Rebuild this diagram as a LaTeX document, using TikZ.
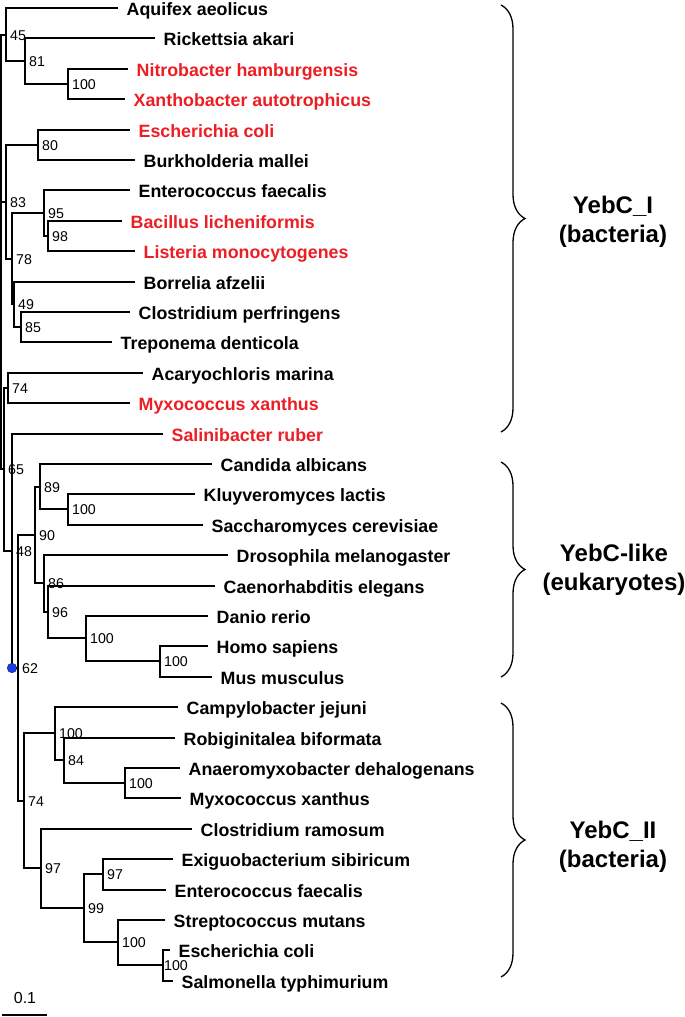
\documentclass[tikz,border=0pt]{standalone}
\usepackage{fontspec}
\setmainfont{Liberation Sans}
\usetikzlibrary{decorations.pathreplacing}
\definecolor{tred}{RGB}{235,30,36}
\definecolor{dotblue}{RGB}{25,60,235}
\definecolor{dotedge}{RGB}{10,30,130}
\begin{document}
\begin{tikzpicture}[x=1pt,y=-1pt,
 br/.style={line width=1.8pt, line join=miter},
 leaf/.style={anchor=west, inner xsep=8.5pt, inner ysep=0pt, text height=14.4pt, text depth=0pt, font=\fontsize{17.8}{20}\selectfont\bfseries},
 rleaf/.style={leaf, text=tred},
 boot/.style={anchor=west, inner sep=0pt, xshift=4pt, text height=10.2pt, text depth=0pt, font=\fontsize{14.2}{16}\selectfont},
 clade/.style={align=center, font=\fontsize{24}{28.5}\selectfont\bfseries},
 brc/.style={decorate, decoration={brace, amplitude=24pt}, line width=1.3pt}]
\useasboundingbox (0,0) rectangle (685,1017);
% leaves
\node[leaf]  (L0)  at (118,8)   {Aquifex aeolicus};
\node[leaf]  (L1)  at (155,38)  {Rickettsia akari};
\node[rleaf] (L2)  at (128,69)  {Nitrobacter hamburgensis};
\node[rleaf] (L3)  at (125,99)  {Xanthobacter autotrophicus};
\node[rleaf] (L4)  at (130,130) {Escherichia coli};
\node[leaf]  (L5)  at (135,160) {Burkholderia mallei};
\node[leaf]  (L6)  at (130,190) {Enterococcus faecalis};
\node[rleaf] (L7)  at (122,221) {Bacillus licheniformis};
\node[rleaf] (L8)  at (135,251) {Listeria monocytogenes};
\node[leaf]  (L9)  at (135,282) {Borrelia afzelii};
\node[leaf]  (L10) at (130,312) {Clostridium perfringens};
\node[leaf]  (L11) at (112,342) {Treponema denticola};
\node[leaf]  (L12) at (143,373) {Acaryochloris marina};
\node[rleaf] (L13) at (130,403) {Myxococcus xanthus};
\node[rleaf] (L14) at (163,434) {Salinibacter ruber};
\node[leaf]  (L15) at (212,464) {Candida albicans};
\node[leaf]  (L16) at (195,494) {Kluyveromyces lactis};
\node[leaf]  (L17) at (203,525) {Saccharomyces cerevisiae};
\node[leaf]  (L18) at (228,555) {Drosophila melanogaster};
\node[leaf]  (L19) at (215,586) {Caenorhabditis elegans};
\node[leaf]  (L20) at (208,616) {Danio rerio};
\node[leaf]  (L21) at (208,646) {Homo sapiens};
\node[leaf]  (L22) at (212,677) {Mus musculus};
\node[leaf]  (L23) at (178,707) {Campylobacter jejuni};
\node[leaf]  (L24) at (175,738) {Robiginitalea biformata};
\node[leaf]  (L25) at (180,768) {Anaeromyxobacter dehalogenans};
\node[leaf]  (L26) at (181,798) {Myxococcus xanthus};
\node[leaf]  (L27) at (192,829) {Clostridium ramosum};
\node[leaf]  (L28) at (173,859) {Exiguobacterium sibiricum};
\node[leaf]  (L29) at (166,890) {Enterococcus faecalis};
\node[leaf]  (L30) at (165,920) {Streptococcus mutans};
\node[leaf]  (L31) at (170,950) {Escherichia coli};
\node[leaf]  (L32) at (173,981) {Salmonella typhimurium};
% internal nodes
\coordinate (A3)  at (68,84);
\coordinate (A2)  at (25,61);
\coordinate (A)   at (6,35);
\coordinate (B1)  at (38,145);
\coordinate (B3a) at (48,236);
\coordinate (B3)  at (44,213);
\coordinate (B5)  at (21,327);
\coordinate (B4)  at (14,304);
\coordinate (B2)  at (12,259);
\coordinate (B)   at (6,202);
\coordinate (C1)  at (8,388);
\coordinate (E1a) at (68,509);
\coordinate (E1)  at (40,487);
\coordinate (E5)  at (160,661);
\coordinate (E4)  at (86,638);
\coordinate (E3)  at (48,612);
\coordinate (E2)  at (44,583);
\coordinate (E)   at (35,535);
\coordinate (F1b) at (125,783);
\coordinate (F1a) at (64,760);
\coordinate (F1)  at (55,733);
\coordinate (F6)  at (163,965);
\coordinate (F5)  at (118,942);
\coordinate (F4)  at (103,874);
\coordinate (F3)  at (84,908);
\coordinate (F2)  at (41,868);
\coordinate (F)   at (24,801);
\coordinate (C3)  at (18,668);
\coordinate (C2)  at (12,551);
\coordinate (C)   at (4,469);
\coordinate (R)   at (1,202);
% branches
\draw[br] (L2.west) -| (A3) |- (L3.west);
\draw[br] (L1.west) -| (A2) |- (A3);
\draw[br] (L0.west) -| (A) |- (A2);
\draw[br] (L4.west) -| (B1) |- (L5.west);
\draw[br] (L7.west) -| (B3a) |- (L8.west);
\draw[br] (L6.west) -| (B3) |- (B3a);
\draw[br] (L10.west) -| (B5) |- (L11.west);
\draw[br] (L9.west) -| (B4) |- (B5);
\draw[br] (B3) -| (B2) |- (B4);
\draw[br] (B1) -| (B) |- (B2);
\draw[br] (L12.west) -| (C1) |- (L13.west);
\draw[br] (L16.west) -| (E1a) |- (L17.west);
\draw[br] (L15.west) -| (E1) |- (E1a);
\draw[br] (L21.west) -| (E5) |- (L22.west);
\draw[br] (L20.west) -| (E4) |- (E5);
\draw[br] (L19.west) -| (E3) |- (E4);
\draw[br] (L18.west) -| (E2) |- (E3);
\draw[br] (E1) -| (E) |- (E2);
\draw[br] (L25.west) -| (F1b) |- (L26.west);
\draw[br] (L24.west) -| (F1a) |- (F1b);
\draw[br] (L23.west) -| (F1) |- (F1a);
\draw[br] (L31.west) -| (F6) |- (L32.west);
\draw[br] (L30.west) -| (F5) |- (F6);
\draw[br] (L28.west) -| (F4) |- (L29.west);
\draw[br] (F4) -| (F3) |- (F5);
\draw[br] (L27.west) -| (F2) |- (F3);
\draw[br] (F1) -| (F) |- (F2);
\draw[br] (E) -| (C3) |- (F);
\draw[br] (L14.west) -| (C2) |- (C3);
\draw[br] (C1) -| (C) |- (C2);
\draw[br] (A) -| (R) |- (C);
\draw[br] (R) -- (B);
% marked node
\node[circle, fill=dotblue, draw=dotedge, line width=0.5pt, minimum size=9.5pt, inner sep=0pt] (dot) at (12,668) {};
% bootstrap values
\node[boot] (bA3)  at (A3)  {100};
\node[boot] (bA2)  at (A2)  {81};
\node[boot] (bA)   at (A)   {45};
\node[boot] (bB1)  at (B1)  {80};
\node[boot] (bB3a) at (B3a) {98};
\node[boot] (bB3)  at (B3)  {95};
\node[boot] (bB5)  at (B5)  {85};
\node[boot] (bB4)  at (B4)  {49};
\node[boot] (bB2)  at (B2)  {78};
\node[boot] (bB)   at (B)   {83};
\node[boot] (bC1)  at (C1)  {74};
\node[boot] (bE1a) at (E1a) {100};
\node[boot] (bE1)  at (E1)  {89};
\node[boot] (bE5)  at (E5)  {100};
\node[boot] (bE4)  at (E4)  {100};
\node[boot] (bE3)  at (E3)  {96};
\node[boot] (bE2)  at (E2)  {86};
\node[boot] (bE)   at (E)   {90};
\node[boot] (bF1b) at (F1b) {100};
\node[boot] (bF1a) at (F1a) {84};
\node[boot] (bF1)  at (F1)  {100};
\node[boot, xshift=-3pt] (bF6) at (F6) {100};
\node[boot] (bF5)  at (F5)  {100};
\node[boot] (bF4)  at (F4)  {97};
\node[boot] (bF3)  at (F3)  {99};
\node[boot] (bF2)  at (F2)  {97};
\node[boot] (bF)   at (F)   {74};
\node[boot] (bC3)  at (C3)  {62};
\node[boot] (bC2)  at (C2)  {48};
\node[boot] (bC)   at (C)   {65};
% clade braces and labels
\coordinate (b1t) at (501,5);   \coordinate (b1b) at (501,432);
\coordinate (b2t) at (501,462); \coordinate (b2b) at (501,677);
\coordinate (b3t) at (501,703); \coordinate (b3b) at (501,977);
\draw[brc] (b1t) -- (b1b);
\draw[brc] (b2t) -- (b2b);
\draw[brc] (b3t) -- (b3b);
\node[clade] (T1) at (613,222) {YebC\_I\\(bacteria)};
\node[clade] (T2) at (614,570) {YebC-like\\(eukaryotes)};
\node[clade] (T3) at (613,847) {YebC\_II\\(bacteria)};
% scale bar
\coordinate (s0) at (2,1015);
\coordinate (s1) at (47,1015);
\draw[line width=1.8pt] (s0) -- (s1);
\node[font=\fontsize{16}{18}\selectfont, inner sep=0pt] (sl) at (25,998) {0.1};
\end{tikzpicture}
\end{document}
